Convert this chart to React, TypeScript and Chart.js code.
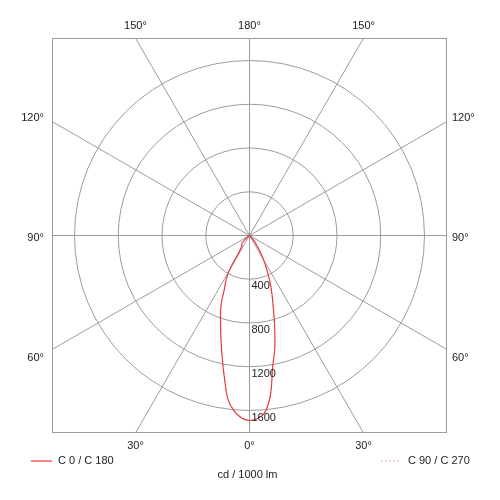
import { useEffect, useRef } from "react";
import { Chart, registerables } from "chart.js";

Chart.register(...registerables);

// Gamma angles (degrees from nadir) and luminous intensities (cd / 1000 lm)
const gammaAngles = [0, 2.5, 5, 7.5, 10, 12.5, 15, 17.5, 20, 22.5, 25, 27.5, 30, 32.5, 35, 40, 45, 60, 90];
const c0Values = [1690, 1675, 1622, 1470, 1220, 1065, 895, 735, 615, 515, 415, 330, 260, 200, 140, 70, 30, 5, 0];
const c180Values = [1692, 1670, 1612, 1512, 1322, 1152, 1004, 880, 776, 678, 546, 468, 370, 170, 130, 110, 95, 10, 0];
const c90Values = [1688, 1672, 1618, 1465, 1215, 1060, 890, 730, 610, 510, 410, 325, 255, 195, 135, 65, 28, 5, 0];
const c270Values = [1688, 1665, 1605, 1500, 1310, 1140, 995, 870, 765, 668, 535, 458, 360, 165, 125, 100, 85, 8, 0];

const ringValues = [400, 800, 1200, 1600];
const ringLabels = ["400", "800", "1200", "1600"];
const spokeAngles = [0, 30, 60, 90, 120, 150, 180, 210, 240, 270, 300, 330];
// angle labels: gamma angle, side (-1 left / +1 right / 0 centre), text
const angleLabelGammas = [180, 150, 150, 120, 120, 90, 90, 60, 60, 30, 30, 0];
const angleLabelSides = [0, -1, 1, -1, 1, -1, 1, -1, 1, -1, 1, 0];
const angleLabelTexts = ["180°", "150°", "150°", "120°", "120°", "90°", "90°", "60°", "60°", "30°", "30°", "0°"];
const legendFirst = "C 0 / C 180";
const legendSecond = "C 90 / C 270";
const unitLabel = "cd / 1000 lm";
const axisLimit = 1806;

const SOLID_COLOR = "#e8343c";
const DOTTED_COLOR = "#ee8f94";
const FONT = '11px "Liberation Sans", Arial, sans-serif';

function toPoints(leftVals: number[], rightVals: number[]) {
  const pts: { x: number; y: number }[] = [];
  for (let i = gammaAngles.length - 1; i >= 0; i--) {
    const g = (gammaAngles[i] * Math.PI) / 180;
    pts.push({ x: -leftVals[i] * Math.sin(g), y: -leftVals[i] * Math.cos(g) });
  }
  for (let i = 1; i < gammaAngles.length; i++) {
    const g = (gammaAngles[i] * Math.PI) / 180;
    pts.push({ x: rightVals[i] * Math.sin(g), y: -rightVals[i] * Math.cos(g) });
  }
  return pts;
}

const polarPlugin = {
  id: "polarPlugin",
  beforeDatasetsDraw(chart: any) {
    const { ctx, chartArea: a, scales } = chart;
    const xs = scales.x, ys = scales.y;
    const cx = xs.getPixelForValue(0);
    const cy = ys.getPixelForValue(0);
    ctx.save();
    ctx.beginPath();
    ctx.rect(a.left, a.top, a.right - a.left, a.bottom - a.top);
    ctx.clip();
    ctx.strokeStyle = "#9c9c9c";
    ctx.lineWidth = 1;
    ringValues.forEach((v) => {
      const r = xs.getPixelForValue(v) - cx;
      ctx.beginPath();
      ctx.arc(cx, cy, r, 0, Math.PI * 2);
      ctx.stroke();
    });
    spokeAngles.forEach((deg) => {
      const rad = (deg * Math.PI) / 180;
      ctx.beginPath();
      ctx.moveTo(cx, cy);
      ctx.lineTo(cx + 1000 * Math.sin(rad), cy + 1000 * Math.cos(rad));
      ctx.stroke();
    });
    ctx.restore();
  },
  afterDraw(chart: any) {
    const { ctx, chartArea: a, scales } = chart;
    const xs = scales.x, ys = scales.y;
    const cx = xs.getPixelForValue(0);
    const cy = ys.getPixelForValue(0);
    ctx.save();
    // frame
    ctx.strokeStyle = "#9c9c9c";
    ctx.lineWidth = 1;
    ctx.strokeRect(Math.round(a.left) + 0.5, Math.round(a.top) + 0.5, Math.round(a.right - a.left) - 1, Math.round(a.bottom - a.top) - 1);

    ctx.fillStyle = "#222";
    ctx.font = FONT;
    // ring value labels
    ringValues.forEach((v, i) => {
      const py = ys.getPixelForValue(-v);
      ctx.textAlign = "left";
      ctx.textBaseline = "middle";
      ctx.fillText(ringLabels[i], cx + 2, py + 7);
    });

    // angle labels at spoke / frame intersections
    const halfW = (a.right - a.left) / 2;
    const halfH = (a.bottom - a.top) / 2;
    angleLabelGammas.forEach((gDeg, i) => {
      const side = angleLabelSides[i];
      const g = (gDeg * Math.PI) / 180;
      let dx = side * Math.sin(g);
      let dy = Math.cos(g);
      if (Math.abs(dx) < 1e-9) dx = 0;
      if (Math.abs(dy) < 1e-9) dy = 0;
      const tx = dx !== 0 ? halfW / Math.abs(dx) : Infinity;
      const ty = dy !== 0 ? halfH / Math.abs(dy) : Infinity;
      const t = Math.min(tx, ty);
      const px = cx + dx * t;
      const py = cy + dy * t;
      ctx.textBaseline = "middle";
      if (ty <= tx) {
        ctx.textAlign = "center";
        ctx.fillText(angleLabelTexts[i], px, dy > 0 ? a.bottom + 13 : a.top - 12);
      } else {
        const vy = py + Math.sign(dy) * 6 + 2;
        if (side < 0) {
          ctx.textAlign = "right";
          ctx.fillText(angleLabelTexts[i], a.left - 8, vy);
        } else {
          ctx.textAlign = "left";
          ctx.fillText(angleLabelTexts[i], a.right + 5, vy);
        }
      }
    });

    // legend
    const ly = a.bottom + 28;
    ctx.strokeStyle = SOLID_COLOR;
    ctx.lineWidth = 1.2;
    ctx.setLineDash([]);
    ctx.beginPath();
    ctx.moveTo(31, ly);
    ctx.lineTo(52, ly);
    ctx.stroke();
    ctx.textAlign = "left";
    ctx.textBaseline = "middle";
    ctx.fillText(legendFirst, 58, ly);

    ctx.strokeStyle = DOTTED_COLOR;
    ctx.setLineDash([1.5, 2.5]);
    ctx.beginPath();
    ctx.moveTo(381, ly);
    ctx.lineTo(401, ly);
    ctx.stroke();
    ctx.setLineDash([]);
    ctx.fillText(legendSecond, 408, ly);

    ctx.textAlign = "center";
    ctx.fillText(unitLabel, cx - 2, ly + 14);
    ctx.restore();
  },
};

export default function App() {
  const ref = useRef<HTMLCanvasElement | null>(null);
  useEffect(() => {
    document.body.style.margin = "0";
    const canvas = ref.current;
    if (!canvas) return;
    const chart = new Chart(canvas, {
      type: "scatter",
      data: {
        datasets: [
          {
            label: legendFirst,
            data: toPoints(c180Values, c0Values),
            showLine: true,
            borderColor: SOLID_COLOR,
            backgroundColor: SOLID_COLOR,
            borderWidth: 1.1,
            pointRadius: 0,
            tension: 0.4,
            fill: false,
          },
          {
            label: legendSecond,
            data: toPoints(c270Values, c90Values),
            showLine: true,
            borderColor: DOTTED_COLOR,
            backgroundColor: DOTTED_COLOR,
            borderWidth: 1,
            borderDash: [1.5, 2.5],
            pointRadius: 0,
            tension: 0.4,
            fill: false,
          },
        ],
      },
      options: {
        animation: false,
        responsive: false,
        maintainAspectRatio: false,
        layout: { padding: { left: 52, top: 38, right: 53, bottom: 67 } },
        scales: {
          x: { type: "linear", min: -axisLimit, max: axisLimit, display: false },
          y: { type: "linear", min: -axisLimit, max: axisLimit, display: false },
        },
        plugins: {
          legend: { display: false },
          tooltip: { enabled: false },
        },
      },
      plugins: [polarPlugin],
    });
    return () => chart.destroy();
  }, []);
  return (
    <div style={{ width: 500, height: 500 }}>
      <canvas ref={ref} width={500} height={500} style={{ display: "block" }} />
    </div>
  );
}
